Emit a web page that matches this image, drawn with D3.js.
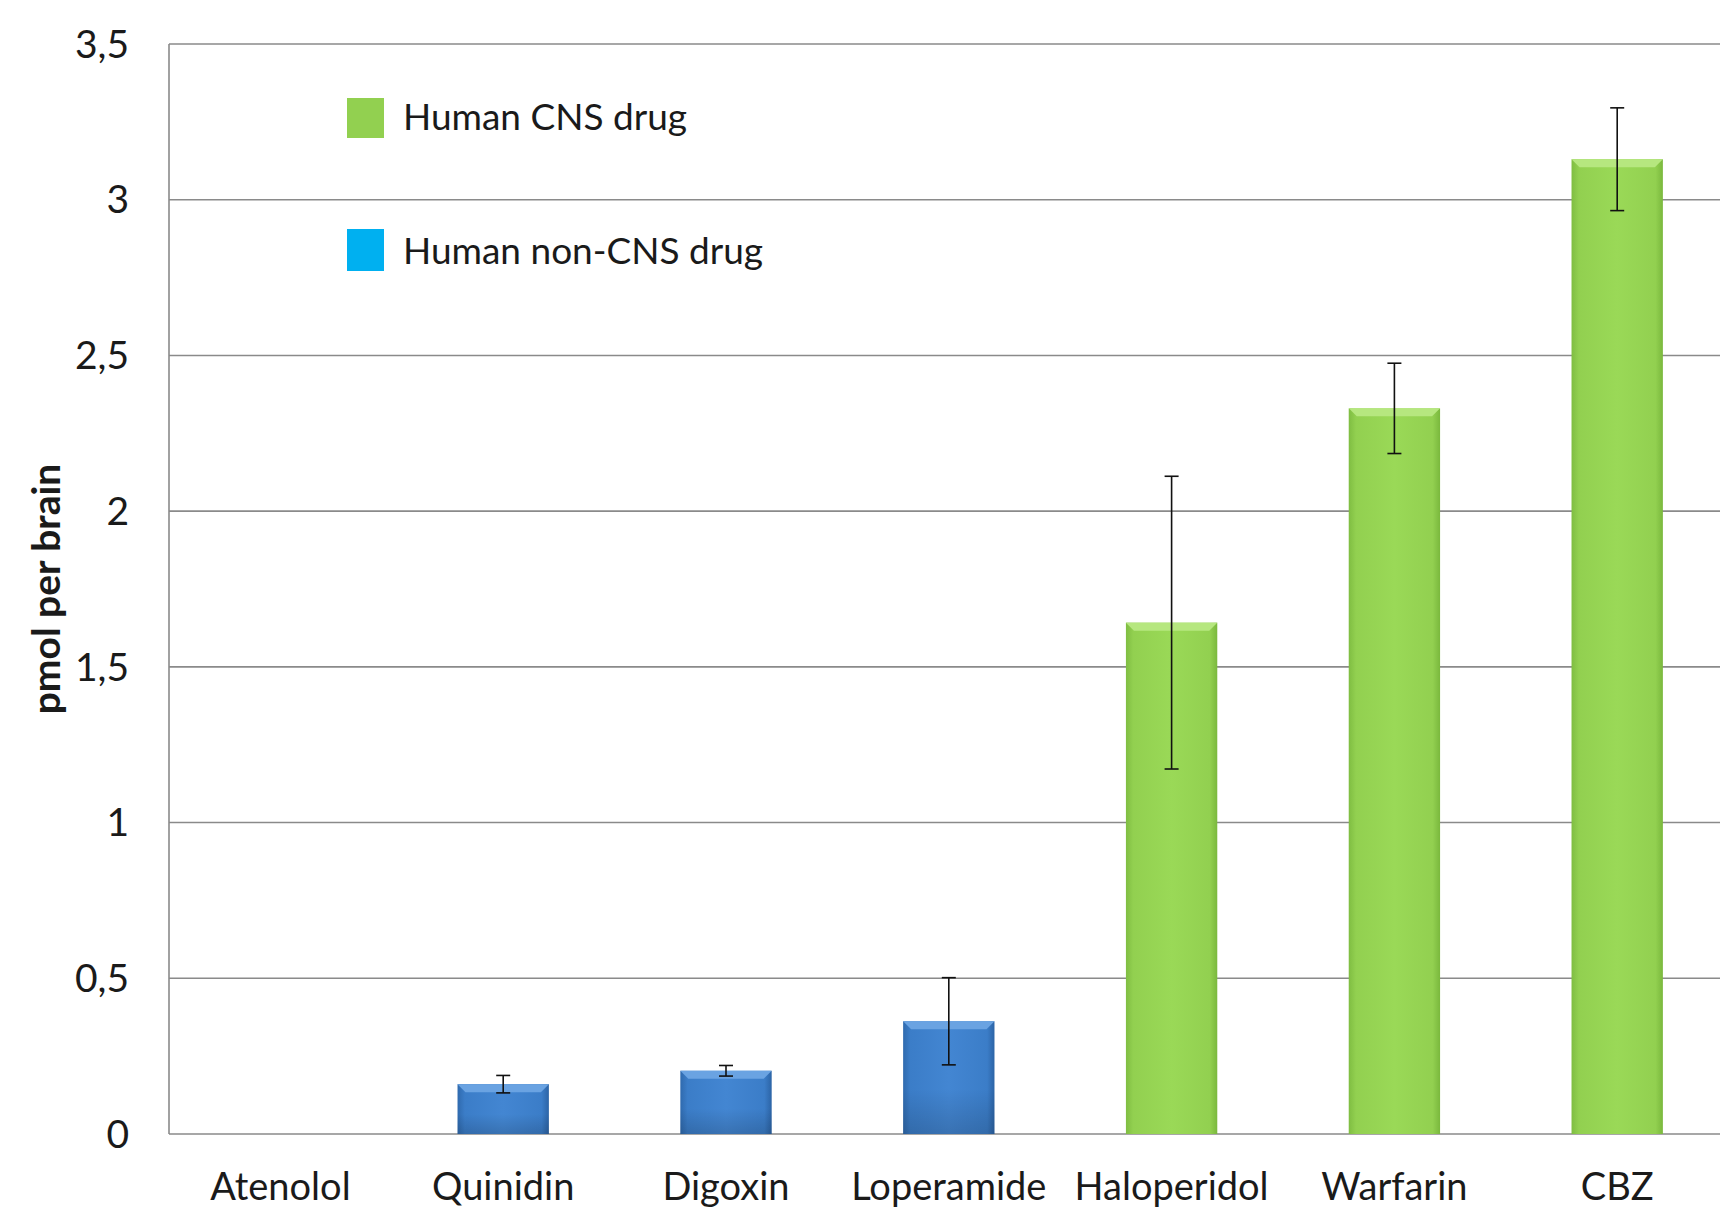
<!DOCTYPE html>
<html>
<head>
<meta charset="utf-8">
<script src="https://cdn.jsdelivr.net/npm/d3@7"></script>
<style>
html,body{margin:0;padding:0;background:#fff;overflow:hidden;}
svg{display:block;}
text{font-family:Lato,"Open Sans",sans-serif;fill:#1a1a1a;}
</style>
</head>
<body>
<svg id="chart" width="1720" height="1209"></svg>
<script>
const categories = ["Atenolol","Quinidin","Digoxin","Loperamide","Haloperidol","Warfarin","CBZ"];
const values = [0, 0.16, 0.203, 0.362, 1.642, 2.33, 3.13];
const errors = [0, 0.028, 0.017, 0.14, 0.47, 0.145, 0.165];
const groups = ["non-CNS","non-CNS","non-CNS","non-CNS","CNS","CNS","CNS"];
const yTicks = [0, 0.5, 1, 1.5, 2, 2.5, 3, 3.5];
const yTickLabels = ["0","0,5","1","1,5","2","2,5","3","3,5"];
const legendLabels = ["Human CNS drug","Human non-CNS drug"];
const legendGroups = ["CNS","non-CNS"];
const yTitle = "pmol per brain";

(function(){
const svg = d3.select("#chart");
const mLeft = 169, mBottom = 1134, mTop = 44, step = 222.8;
const x = d3.scaleBand().domain(categories).range([mLeft, mLeft + step * categories.length]).paddingInner(0.59).paddingOuter(0.295);
const y = d3.scaleLinear().domain([0, 3.5]).range([mBottom, mTop]);

const defs = svg.append("defs");
function hgrad(id, stops){
  const g = defs.append("linearGradient").attr("id", id).attr("x1","0").attr("x2","1").attr("y1","0").attr("y2","0");
  stops.forEach(s => g.append("stop").attr("offset", s[0]).attr("stop-color", s[1]));
}
hgrad("gGreen", [[0,"#7fbd42"],[0.08,"#92d050"],[0.5,"#9ad957"],[0.92,"#92d050"],[1,"#7ab83d"]]);
hgrad("gBlue", [[0,"#2f6aae"],[0.08,"#3b7dc8"],[0.5,"#4386d2"],[0.92,"#3b7dc8"],[1,"#2c64a6"]]);
const vb = defs.append("linearGradient").attr("id","vBlue").attr("x1","0").attr("x2","0").attr("y1","0").attr("y2","1");
vb.append("stop").attr("offset",0).attr("stop-color","#000").attr("stop-opacity",0);
vb.append("stop").attr("offset",0.6).attr("stop-color","#000").attr("stop-opacity",0);
vb.append("stop").attr("offset",1).attr("stop-color","#000").attr("stop-opacity",0.15);

const fills = {"CNS":"url(#gGreen)","non-CNS":"url(#gBlue)"};
const bevel = {"CNS":"#b6e77f","non-CNS":"#6aa3e2"};
const legendColors = {"CNS":"#92d050","non-CNS":"#00b0f0"};

svg.append("g").selectAll("line").data(yTicks).join("line")
  .attr("x1", mLeft).attr("x2", 1720)
  .attr("y1", d => y(d)).attr("y2", d => y(d))
  .attr("stroke", "#8a8a8a").attr("stroke-width", 1.6);
svg.append("line").attr("x1", mLeft).attr("x2", mLeft).attr("y1", y(3.5)).attr("y2", y(0))
  .attr("stroke", "#8a8a8a").attr("stroke-width", 1.6);

svg.append("g").selectAll("text").data(yTicks).join("text")
  .attr("x", 129).attr("y", d => y(d)).attr("dy", "0.35em")
  .attr("text-anchor", "end").attr("font-size", 39)
  .text((d,i) => yTickLabels[i]);

svg.append("text")
  .attr("transform", `translate(60,589) rotate(-90)`)
  .attr("text-anchor", "middle").attr("font-size", 39).attr("font-weight", "bold")
  .attr("fill", "#111")
  .text(yTitle);

const data = categories.map((c,i) => ({c, v: values[i], e: errors[i], g: groups[i]}));
const bars = svg.append("g").selectAll("g").data(data.filter(d => d.v > 0)).join("g");
bars.append("rect")
  .attr("x", d => x(d.c)).attr("width", x.bandwidth())
  .attr("y", d => y(d.v)).attr("height", d => y(0) - y(d.v))
  .attr("fill", d => fills[d.g]);
bars.filter(d => d.g === "non-CNS").append("rect")
  .attr("x", d => x(d.c)).attr("width", x.bandwidth())
  .attr("y", d => y(d.v)).attr("height", d => y(0) - y(d.v))
  .attr("fill", "url(#vBlue)");
bars.append("path")
  .attr("d", d => {
    const x0 = x(d.c), x1 = x0 + x.bandwidth(), t = y(d.v), b = 8;
    return `M${x0},${t}L${x1},${t}L${x1-b},${t+b}L${x0+b},${t+b}Z`;
  })
  .attr("fill", d => bevel[d.g]);

const eb = svg.append("g").selectAll("g").data(data.filter(d => d.e > 0)).join("g")
  .attr("stroke", "#111").attr("stroke-width", 1.6);
const cx = d => x(d.c) + x.bandwidth() / 2;
eb.append("line").attr("x1", cx).attr("x2", cx).attr("y1", d => y(d.v + d.e)).attr("y2", d => y(d.v - d.e));
eb.append("line").attr("x1", d => cx(d) - 7).attr("x2", d => cx(d) + 7).attr("y1", d => y(d.v + d.e)).attr("y2", d => y(d.v + d.e));
eb.append("line").attr("x1", d => cx(d) - 7).attr("x2", d => cx(d) + 7).attr("y1", d => y(d.v - d.e)).attr("y2", d => y(d.v - d.e));

svg.append("g").selectAll("text").data(categories).join("text")
  .attr("x", d => x(d) + x.bandwidth() / 2).attr("y", 1200)
  .attr("text-anchor", "middle").attr("font-size", 38)
  .text(d => d);

const lg = svg.append("g").selectAll("g").data(legendLabels).join("g");
lg.append("rect").attr("x", 347).attr("y", (d,i) => [98, 229][i])
  .attr("width", 37).attr("height", (d,i) => [40, 42][i])
  .attr("fill", (d,i) => legendColors[legendGroups[i]]);
lg.append("text").attr("x", 403).attr("y", (d,i) => [130, 264][i])
  .attr("font-size", 37).text(d => d);
})();
</script>
</body>
</html>
